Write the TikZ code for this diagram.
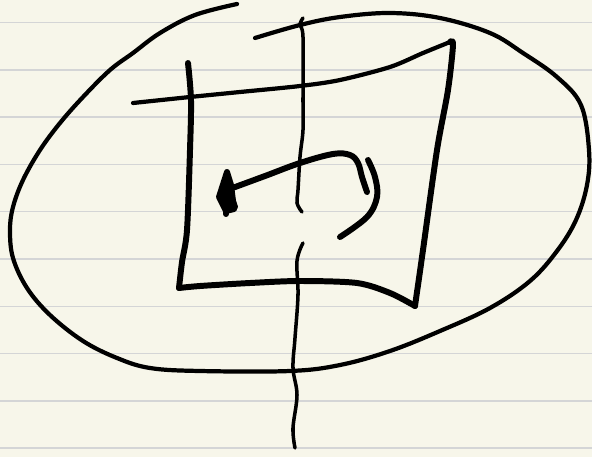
\documentclass[tikz,border=0pt]{standalone}
\usepackage{tikz}
\usetikzlibrary{calc}
\definecolor{paper}{RGB}{247,246,234}
\definecolor{ruling}{RGB}{212,213,214}

\begin{document}
\begin{tikzpicture}[
    x=0.02cm, y=-0.02cm,
    rule/.style={ruling, line width=0.9pt},
    pen/.style={black, line width=2.4pt, line cap=round, line join=round},
    thickpen/.style={pen, line width=3.4pt},
    thinpen/.style={pen, line width=2pt}
]

% paper
\fill[paper] (0,0) rectangle (592,457);
\useasboundingbox (0,0) rectangle (592,457);
\foreach \k in {0,...,9}
    \draw[rule] (0,{22.5+47.3*\k}) -- (592,{22.5+47.3*\k});

% outer loop
\draw[pen] plot[smooth, tension=0.6] coordinates {
    (237,4) (195,15) (160,33) (133,53) (110,70) (83,97) (60,123) (40,150)
    (23,180) (13,207) (10,230) (13,258) (27,288) (50,315) (83,341) (117,358)
    (150,368) (200,371) (290,371) (340,365) (390,351) (440,331) (490,308)
    (530,281) (557,251) (576,220) (587,185) (589,150) (581,105) (557,77)
    (523,53) (490,33) (440,18) (390,13) (340,17) (300,25) (255,38)};

% square
\draw[thickpen] plot[smooth, tension=0.5] coordinates {
    (188,63) (191,100) (190,150) (187,230) (182,262) (179,288)};
\draw[thickpen] plot[smooth, tension=0.5] coordinates {
    (179,288) (200,286) (250,283) (300,281) (357,283) (390,293) (415,306)};
\draw[thickpen] plot[smooth, tension=0.5] coordinates {
    (415,306) (423,250) (437,150) (448,90) (453,45) (450,42)};
\draw[pen] plot[smooth, tension=0.5] coordinates {
    (450,42) (423,53) (390,67) (340,80) (300,86) (240,92) (190,97) (133,103)};

% axis
\draw[thinpen] plot[smooth, tension=0.6] coordinates {
    (303,18) (300,25) (303,37) (303,100) (303,130) (300,157) (298,190)
    (297,203) (302,212)};
\draw[thinpen] plot[smooth, tension=0.6] coordinates {
    (303,243) (297,261) (298,295) (295,338) (293,368) (297,395) (293,428)
    (295,448)};

% rotation arrow
\draw[thickpen] plot[smooth, tension=0.6] coordinates {
    (227,190) (265,176) (300,163) (333,154) (350,155) (358,163) (362,177)
    (367,192)};
\draw[thickpen] plot[smooth, tension=0.6] coordinates {
    (368,160) (375,177) (377,197) (367,217) (340,237)};
\draw[thickpen, fill=black] (227,172) -- (219,197) -- (226,211) -- (234,209)
    -- (231,185) -- cycle;
\draw[thickpen] (226,211) -- (226,214);
\draw[thickpen] (232,198) -- (235,207);

\end{tikzpicture}
\end{document}
